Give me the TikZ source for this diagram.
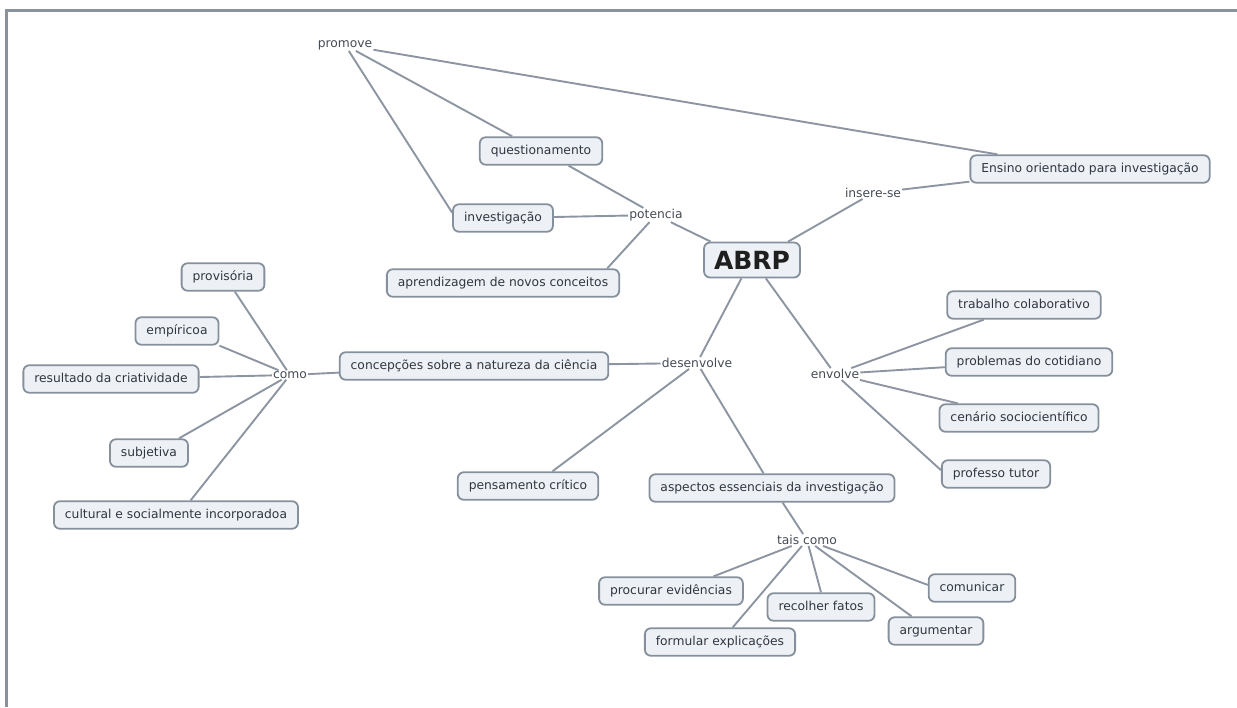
\documentclass[tikz,border=0pt]{standalone}
\usepackage{fontspec}
\setmainfont{DejaVu Sans}
\definecolor{boxfill}{HTML}{EDF1F5}
\definecolor{boxline}{HTML}{85909C}
\definecolor{linkline}{HTML}{8C95A1}
\definecolor{txt}{HTML}{2F3641}
\definecolor{framecol}{HTML}{8A929C}
\tikzset{
 concept/.style={draw=boxline, fill=boxfill, line width=1.8pt, rounded corners=6pt,
   inner xsep=11pt, inner ysep=7.5pt, text height=9.5pt, text depth=3pt,
   font=\fontsize{12.3}{14}\selectfont, text=txt},
 abrpbox/.style={concept, font=\bfseries\fontsize{25}{28}\selectfont, text height=19pt,
   text depth=0pt, inner xsep=10pt, inner ysep=8pt, text=black!88},
 linkw/.style={inner sep=1pt, font=\fontsize{12.3}{14}\selectfont, text=txt!90},
 conn/.style={draw=linkline, line width=1.9pt},
}
\begin{document}
\begin{tikzpicture}[x=1pt,y=-1pt]
\useasboundingbox (0,0) rectangle (1237,707);
\draw[framecol, line width=3pt] (6.5,707) -- (6.5,10) -- (1237,10);

\node[linkw] (promove) at (345,45) {promove};
\node[concept] (quest) at (541,151) {questionamento};
\node[concept] (invest) at (503,218) {investigação};
\node[concept] (aprend) at (503,283) {aprendizagem de novos conceitos};
\node[linkw] (potencia) at (656,215) {potencia};
\node[abrpbox] (abrp) at (752,260) {ABRP};
\node[linkw] (insere) at (873,193) {insere-se};
\node[concept] (ensino) at (1090,169) {Ensino orientado para investigação};
\node[linkw] (desenv) at (697,363) {desenvolve};
\node[concept] (concep) at (474,366) {concepções sobre a natureza da ciência};
\node[concept] (pensam) at (528,486) {pensamento crítico};
\node[concept] (aspect) at (772,488) {aspectos essenciais da investigação};
\node[linkw] (envolve) at (835,374) {envolve};
\node[concept] (trab) at (1024,305) {trabalho colaborativo};
\node[concept] (probl) at (1029,362) {problemas do cotidiano};
\node[concept] (cenar) at (1019,418) {cenário sociocientífico};
\node[concept] (profe) at (996,474) {professo tutor};
\node[linkw] (como) at (290,375) {como};
\node[concept] (provis) at (223,277) {provisória};
\node[concept] (empir) at (177,331) {empíricoa};
\node[concept] (result) at (111,379) {resultado da criatividade};
\node[concept] (subjet) at (149,453) {subjetiva};
\node[concept] (cultur) at (176,515) {cultural e socialmente incorporadoa};
\node[linkw] (tais) at (807,540) {tais como};
\node[concept] (procur) at (671,591) {procurar evidências};
\node[concept] (formul) at (720,642) {formular explicações};
\node[concept] (recolh) at (821,607) {recolher fatos};
\node[concept] (argum) at (936,631) {argumentar};
\node[concept] (comun) at (972,588) {comunicar};

\draw[conn] (promove) -- (quest.153);
\draw[conn] (promove) -- (invest.174);
\draw[conn] (promove) -- (ensino.171);
\draw[conn] (quest.-28) -- (potencia);
\draw[conn] (invest) -- (potencia);
\draw[conn] (aprend.8) -- (potencia);
\draw[conn] (potencia) -- (abrp.156);
\draw[conn] (abrp.27) -- (insere);
\draw[conn] (insere) -- (ensino.186);
\draw[conn] (abrp.-120) -- (desenv);
\draw[conn] (desenv) -- (concep);
\draw[conn] (desenv) -- (pensam.31);
\draw[conn] (desenv) -- (aspect.120);
\draw[conn] (abrp.-53) -- (envolve);
\draw[conn] (envolve) -- (trab.200);
\draw[conn] (envolve) -- (probl);
\draw[conn] (envolve) -- (cenar);
\draw[conn] (envolve) -- (profe.176);
\draw[conn] (concep) -- (como);
\draw[conn] (como) -- (provis.-51);
\draw[conn] (como) -- (empir.south east);
\draw[conn] (como) -- (result);
\draw[conn] (como) -- (subjet.26);
\draw[conn] (como) -- (cultur.45);
\draw[conn] (aspect.-54) -- (tais);
\draw[conn] (tais) -- (procur.19);
\draw[conn] (tais) -- (formul.49);
\draw[conn] (tais) -- (recolh.north);
\draw[conn] (tais) -- (argum.149);
\draw[conn] (tais) -- (comun.176);
\end{tikzpicture}
\end{document}
